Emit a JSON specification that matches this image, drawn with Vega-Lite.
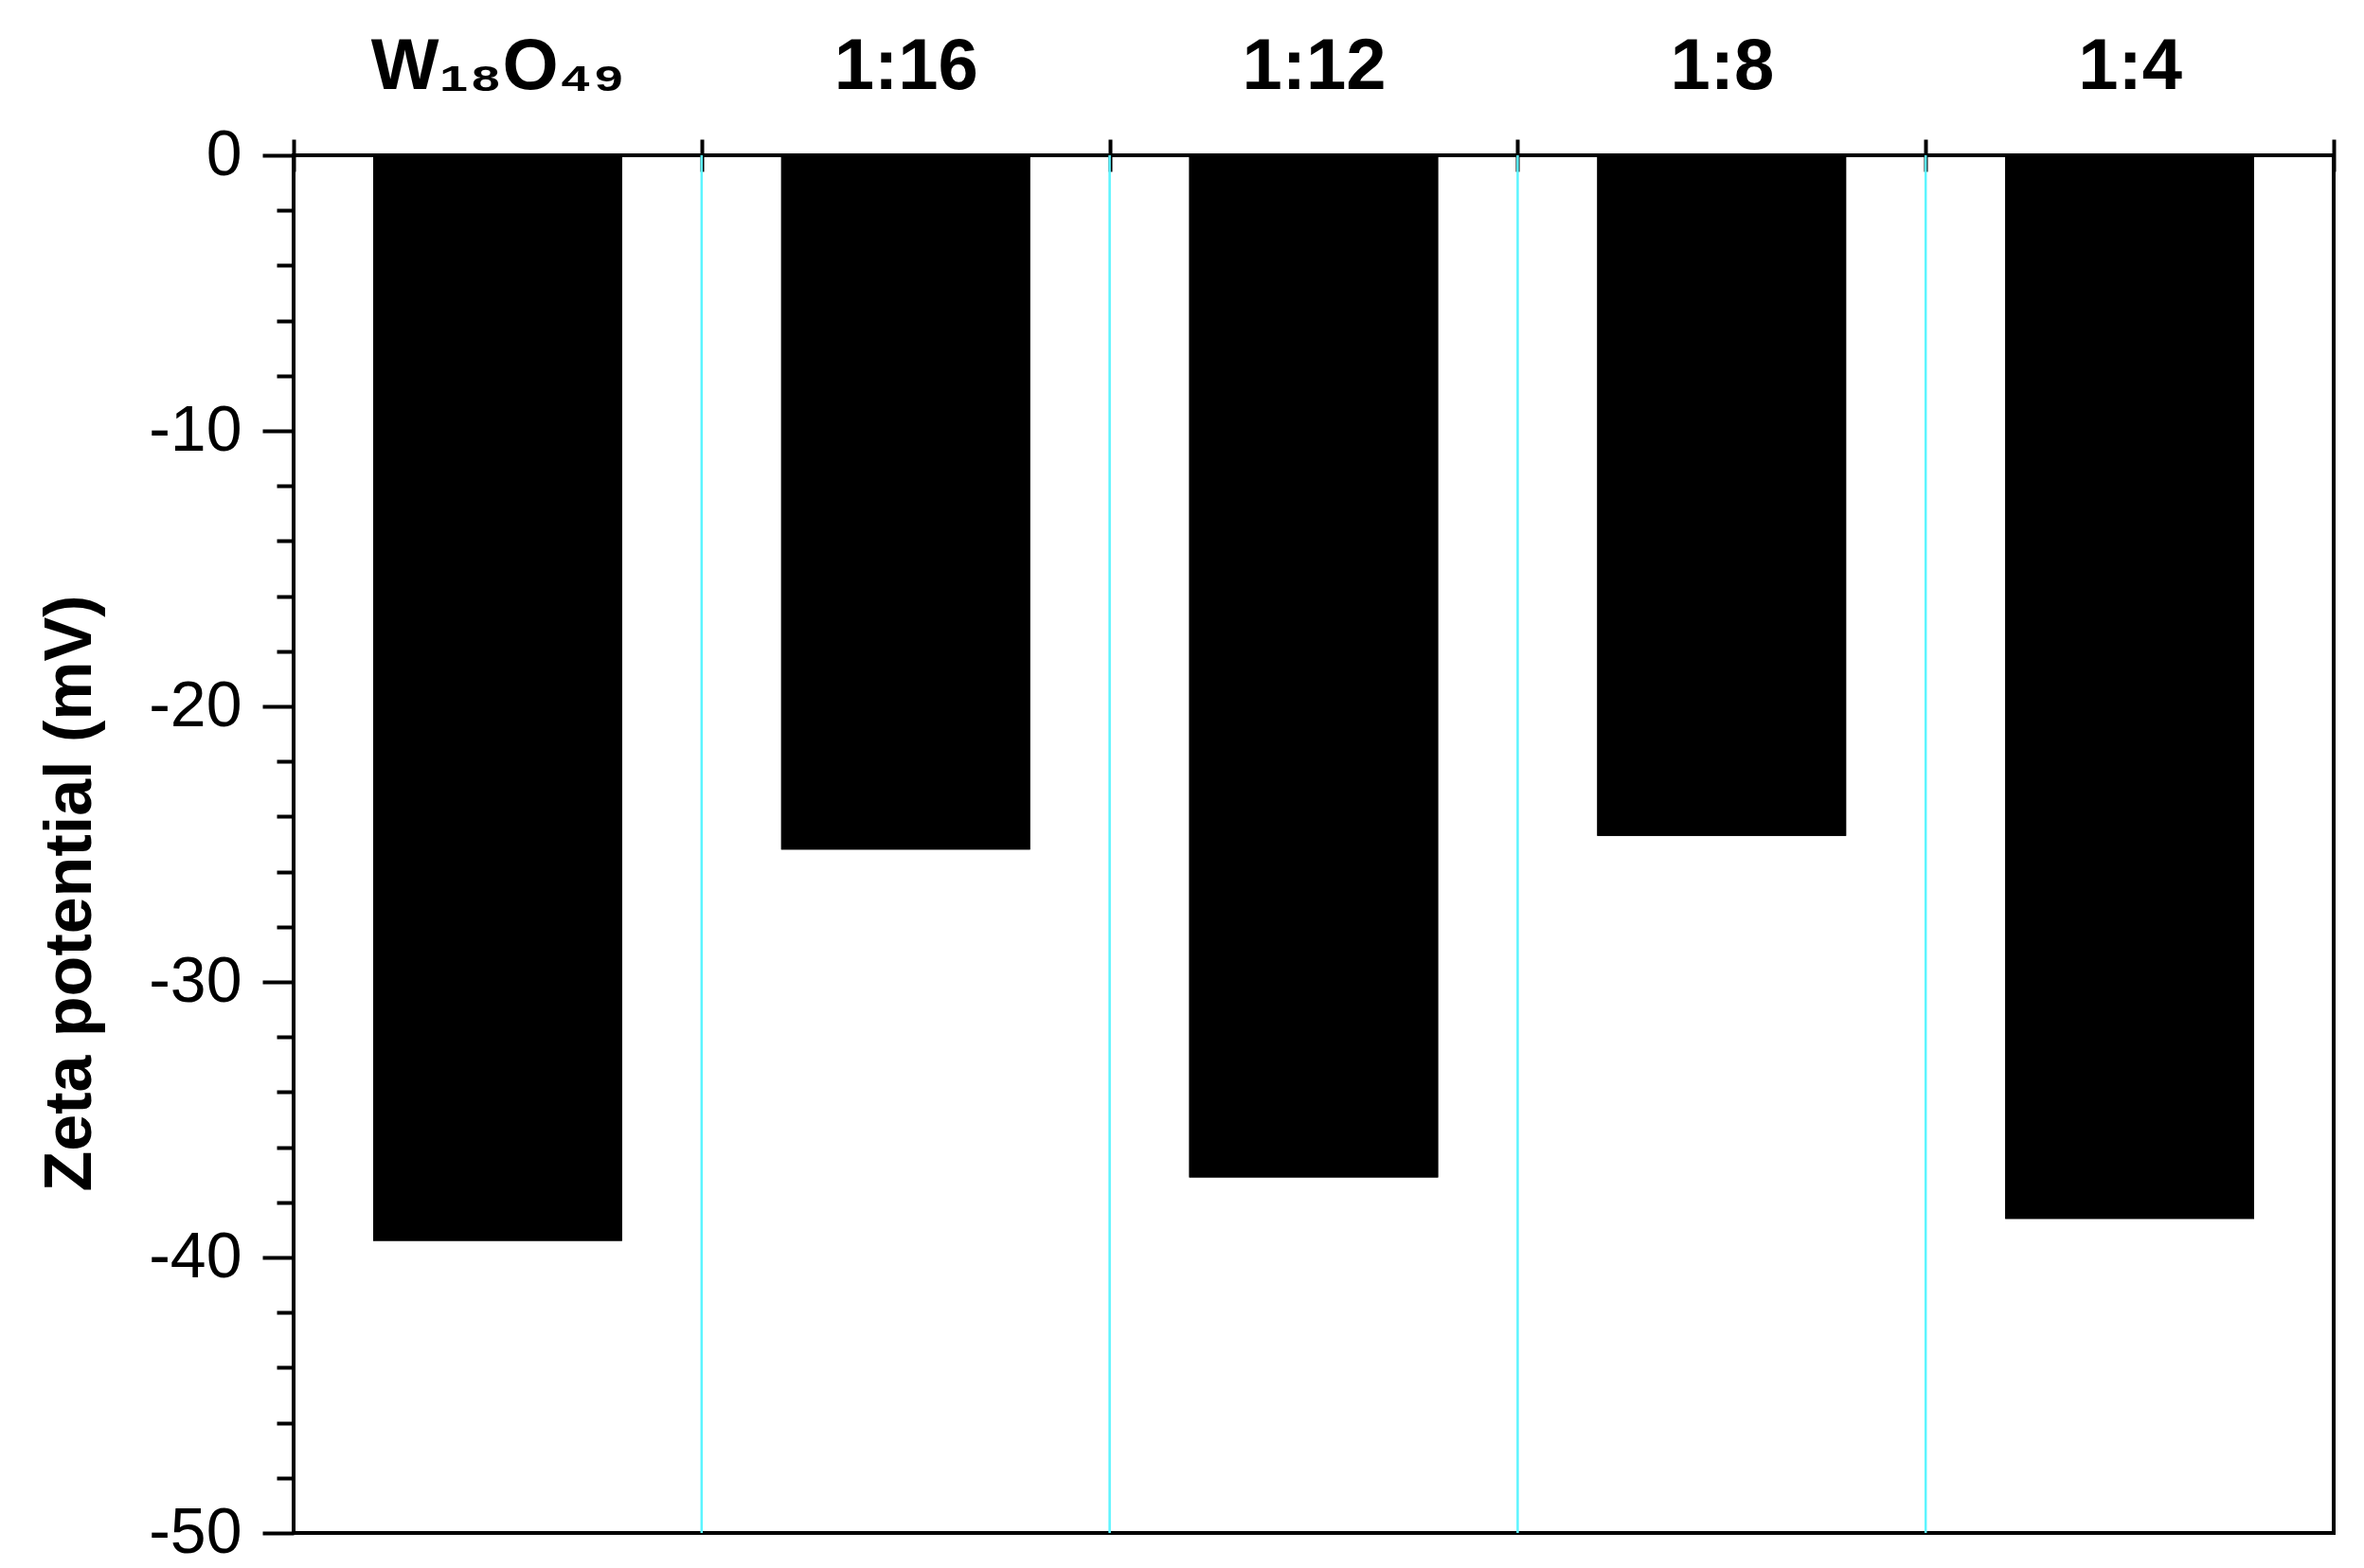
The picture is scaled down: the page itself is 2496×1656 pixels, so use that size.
{
  "$schema": "https://vega.github.io/schema/vega-lite/v6.json",
  "autosize": {"type": "none"},
  "width": 2154,
  "height": 1455,
  "padding": {"left": 310, "top": 164, "right": 32, "bottom": 37},
  "background": "white",
  "config": {
    "view": {"stroke": "black", "strokeWidth": 4},
    "font": "Liberation Sans"
  },
  "data": {
    "values": [
      {"sample": "W₁₈O₄₉", "zeta": -39.4},
      {"sample": "1:16", "zeta": -25.2},
      {"sample": "1:12", "zeta": -37.1},
      {"sample": "1:8", "zeta": -24.7},
      {"sample": "1:4", "zeta": -38.6}
    ]
  },
  "encoding": {
    "x": {
      "field": "sample",
      "type": "nominal",
      "sort": ["W₁₈O₄₉", "1:16", "1:12", "1:8", "1:4"],
      "scale": {"domain": ["W₁₈O₄₉", "1:16", "1:12", "1:8", "1:4"], "paddingInner": 0, "paddingOuter": 0},
      "axis": {
        "orient": "top",
        "title": null,
        "domain": false,
        "tickBand": "extent",
        "offset": -17,
        "tickSize": 34,
        "tickWidth": 4,
        "tickColor": "black",
        "labelAngle": 0,
        "labelFontSize": 76,
        "labelFontWeight": "bold",
        "labelFont": "Liberation Sans",
        "labelColor": "black",
        "labelBaseline": "alphabetic",
        "labelPadding": 54,
        "labelLimit": 0,
        "grid": false
      }
    }
  },
  "layer": [
    {
      "transform": [{"filter": "datum.sample !== 'W₁₈O₄₉'"}],
      "mark": {"type": "rule", "color": "#5CF5FF", "strokeWidth": 2.5},
      "encoding": {
        "x": {
          "field": "sample",
          "type": "nominal",
          "sort": ["W₁₈O₄₉", "1:16", "1:12", "1:8", "1:4"],
          "scale": {"domain": ["W₁₈O₄₉", "1:16", "1:12", "1:8", "1:4"], "paddingInner": 0, "paddingOuter": 0},
          "bandPosition": 0
        }
      }
    },
    {
      "mark": {"type": "bar", "color": "black", "width": {"band": 0.61}},
      "encoding": {
        "y": {
          "field": "zeta",
          "type": "quantitative",
          "scale": {"domain": [-50, 0], "nice": false, "zero": false},
          "axis": {
            "orient": "left",
            "values": [-48, -46, -44, -42, -38, -36, -34, -32, -28, -26, -24, -22, -18, -16, -14, -12, -8, -6, -4, -2],
            "tickSize": 18,
            "tickWidth": 4,
            "tickColor": "black",
            "labels": false,
            "title": null,
            "domain": false,
            "grid": false
          }
        }
      }
    },
    {
      "mark": {"type": "bar", "color": "black", "width": {"band": 0.61}},
      "encoding": {
        "y": {
          "field": "zeta",
          "type": "quantitative",
          "scale": {"domain": [-50, 0], "nice": false, "zero": false},
          "axis": {
            "orient": "left",
            "values": [-50, -40, -30, -20, -10, 0],
            "tickSize": 33,
            "tickWidth": 4,
            "tickColor": "black",
            "labelExpr": "replace(datum.label, '−', '-')",
            "labelFontSize": 68,
            "labelColor": "black",
            "labelPadding": 22,
            "labelFont": "Liberation Sans",
            "domain": false,
            "grid": false,
            "title": "Zeta potential (mV)",
            "titleFontSize": 70,
            "titleFontWeight": "bold",
            "titleFont": "Liberation Sans",
            "titleColor": "black",
            "titleBaseline": "bottom",
            "titleX": -200,
            "titleY": 779
          }
        }
      }
    }
  ],
  "resolve": {"axis": {"y": "independent"}}
}
